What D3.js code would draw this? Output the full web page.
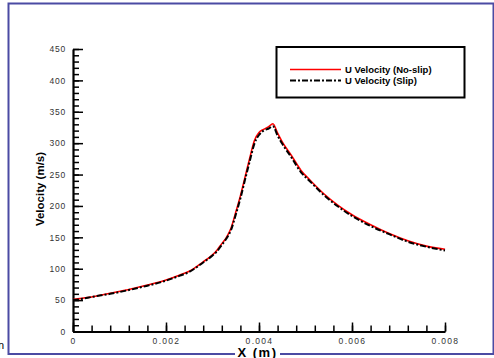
<!DOCTYPE html>
<html><head><meta charset="utf-8">
<script src="https://cdn.jsdelivr.net/npm/d3@7"></script>
<style>body{margin:0;background:#fff}svg{display:block}</style>
</head><body>
<script>
const xValues = [0, 0.0002, 0.0004, 0.0008, 0.0012, 0.0016, 0.0020, 0.0023, 0.0025, 0.0028, 0.0030, 0.0031, 0.0032, 0.0033, 0.0034, 0.0035, 0.0036, 0.0037, 0.0038, 0.0039, 0.0040, 0.0041, 0.0042, 0.0043, 0.0044, 0.0045, 0.0047, 0.0049, 0.0051, 0.0054, 0.0057, 0.0060, 0.0064, 0.0068, 0.0072, 0.0076, 0.0080];
const uNoSlip = [51, 53, 55, 61, 67, 74, 82, 90, 96, 111, 122, 130, 140, 150, 165, 190, 216, 246, 276, 304, 317, 322, 326, 331, 316, 302, 280, 257, 241, 219, 201, 186, 170, 156, 144.5, 136, 131];
const uSlip   = [50, 52, 55, 60, 66, 73, 81, 89, 95, 110, 121, 128, 138, 148, 162, 186, 212, 242, 271, 299, 313, 320, 323, 327, 312, 299, 277, 254, 239, 217, 199, 184, 168, 155, 143, 135, 129];
const seriesNames = ["U Velocity (No-slip)", "U Velocity (Slip)"];
const xTicks = [0, 0.002, 0.004, 0.006, 0.008];
const xTickLabels = ["0", "0.002", "0.004", "0.006", "0.008"];
const yTicks = [0, 50, 100, 150, 200, 250, 300, 350, 400, 450];
const yTickLabels = ["0", "50", "100", "150", "200", "250", "300", "350", "400", "450"];

const W = 494, H = 358;
const font = "'Liberation Sans', Arial, sans-serif";
const svg = d3.select("body").append("svg").attr("width", W).attr("height", H);

// outer frame
svg.append("rect").attr("x", 8.5).attr("y", 3.5).attr("width", 485).attr("height", 350.5)
  .attr("fill", "none").attr("stroke", "#4b4ba3").attr("stroke-width", 2);

// stray clipped character at left edge
svg.append("text").attr("x", -2).attr("y", 349).attr("font-family", font)
  .attr("font-size", 11).attr("fill", "#000").text("n");

const x = d3.scaleLinear().domain([0, 0.008]).range([73, 445]);
const y = d3.scaleLinear().domain([0, 450]).range([331.5, 49]);

// minor ticks
const xMinor = d3.range(0, 0.00801, 0.0004);
svg.append("g").attr("transform", "translate(0,331.5)")
  .call(d3.axisBottom(x).tickValues(xMinor).tickSize(-6).tickSizeOuter(0).tickFormat(""))
  .call(g => g.select(".domain").remove())
  .call(g => g.selectAll("line").attr("stroke", "#000").attr("stroke-width", 1.5));
const yMinor = d3.range(0, 451, 10);
svg.append("g").attr("transform", "translate(73,0)")
  .call(d3.axisLeft(y).tickValues(yMinor).tickSize(-6).tickSizeOuter(0).tickFormat(""))
  .call(g => g.select(".domain").remove())
  .call(g => g.selectAll("line").attr("stroke", "#000").attr("stroke-width", 1.5));

// major axes
const xAxis = svg.append("g").attr("transform", "translate(0,331.5)")
  .call(d3.axisBottom(x).tickValues(xTicks).tickSize(-9).tickSizeOuter(0).tickPadding(6)
    .tickFormat((d, i) => xTickLabels[i]));
const yAxis = svg.append("g").attr("transform", "translate(73,0)")
  .call(d3.axisLeft(y).tickValues(yTicks).tickSize(-10).tickSizeOuter(0).tickPadding(7)
    .tickFormat((d, i) => yTickLabels[i]));
[xAxis, yAxis].forEach(g => {
  g.select(".domain").attr("stroke", "#000").attr("stroke-width", 2.2);
  g.selectAll(".tick line").attr("stroke", "#000").attr("stroke-width", 1.5);
  g.selectAll("text").attr("font-family", font).attr("font-size", 8.5).attr("fill", "#333");
});
xAxis.selectAll("text").attr("letter-spacing", 1.3);
yAxis.selectAll("text").attr("letter-spacing", 0.8);

// data lines
const line = vals => d3.line().curve(d3.curveMonotoneX).x((d, i) => x(xValues[i])).y(d => y(d))(vals);
svg.append("path").attr("d", line(uNoSlip)).attr("fill", "none")
  .attr("stroke", "#ff0000").attr("stroke-width", 1.6);
svg.append("path").attr("d", line(uSlip)).attr("fill", "none")
  .attr("stroke", "#000").attr("stroke-width", 2).attr("stroke-dasharray", "6,2,2,2");

// legend
const lg = svg.append("g");
lg.append("rect").attr("x", 276.5).attr("y", 47).attr("width", 188).attr("height", 50.5)
  .attr("fill", "#fff").attr("stroke", "#000").attr("stroke-width", 2);
const legY = [69.5, 80.5];
const legStroke = ["#ff0000", "#000"];
const legDash = [null, "6,2,2,2"];
seriesNames.forEach((name, i) => {
  lg.append("line").attr("x1", 290).attr("x2", 341).attr("y1", legY[i]).attr("y2", legY[i])
    .attr("stroke", legStroke[i]).attr("stroke-width", i ? 2 : 1.6)
    .attr("stroke-dasharray", legDash[i]);
  lg.append("text").attr("x", 345).attr("y", legY[i] + 3.5).attr("font-family", font)
    .attr("font-size", 9.5).attr("font-weight", "bold").attr("fill", "#000").text(name);
});

// axis titles
svg.append("rect").attr("x", 235).attr("y", 347).attr("width", 45).attr("height", 11).attr("fill", "#fff");
svg.append("text").attr("x", 257.5).attr("y", 356.5).attr("text-anchor", "middle")
  .attr("font-family", font).attr("font-size", 13).attr("font-weight", "bold")
  .attr("letter-spacing", 1.5).text("X (m)");
svg.append("text").attr("transform", "translate(44,189) rotate(-90)").attr("text-anchor", "middle")
  .attr("font-family", font).attr("font-size", 11.5).attr("font-weight", "bold")
  .text("Velocity (m/s)");
</script>
</body></html>
